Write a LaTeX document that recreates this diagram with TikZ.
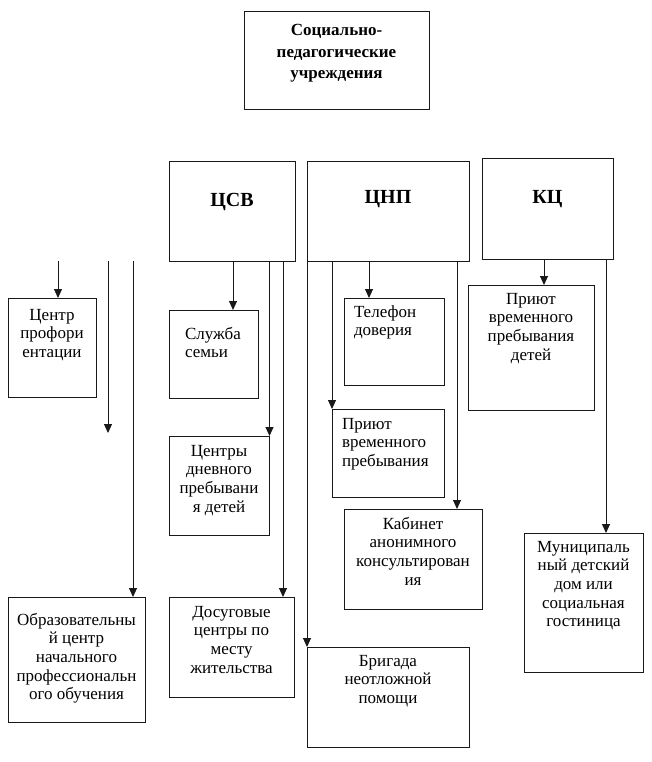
\documentclass[tikz,border=0pt]{standalone}
\usepackage{fontspec}
\setmainfont{Liberation Serif}
\usetikzlibrary{arrows.meta}
\newcommand\bxC[4]{\parbox[c][#2pt][t]{#1pt}{\centering\vspace*{\dimexpr#3pt-0.7\baselineskip\relax}\strut#4\par}}
\newcommand\bxL[5]{\parbox[c][#2pt][t]{#1pt}{\raggedright\leftskip=#4pt\vspace*{\dimexpr#3pt-0.7\baselineskip\relax}\strut#5\par}}
\tikzset{
  box/.style={draw=black!90, line width=1pt, inner sep=0pt, outer sep=0pt, anchor=north west,
    font=\fontsize{17}{18.7}\selectfont},
  headbox/.style={box, font=\bfseries\fontsize{17}{21.5}\selectfont},
  bigbox/.style={box, font=\bfseries\fontsize{20}{22}\selectfont},
  ln/.style={draw=black!90, line width=1pt},
  arr/.style={ln, -{Triangle[length=9pt,width=8pt]}}
}
\begin{document}
\begin{tikzpicture}[x=1pt,y=-1pt]
\useasboundingbox (0,0) rectangle (652,762);
% top level
\node[headbox] (top) at (244,12) {\bxC{185}{98}{24}{Социально-\\педагогические\\учреждения}};
\node[bigbox] (csv) at (169,162) {\bxC{126}{99}{44}{ЦСВ}};
\node[bigbox] (cnp) at (307,162) {\bxC{162}{99}{42}{ЦНП}};
\node[bigbox] (kc) at (482,159) {\bxC{131}{100}{44}{КЦ}};
% left column
\node[box] (prof) at (8,298) {\bxC{88}{99}{22}{Центр\\профори\\ентации}};
\node[box] (obr) at (8,597) {\bxC{137}{125}{28}{Образовательны\\й центр\\начального\\профессиональн\\ого обучения}};
% CSV children
\node[box] (sl) at (169,310) {\bxL{89}{88}{29}{16}{Служба\\семьи}};
\node[box] (dn) at (169,436) {\bxC{100}{99}{20}{Центры\\дневного\\пребывани\\я детей}};
\node[box] (dos) at (169,597) {\bxC{125}{100}{20}{Досуговые\\центры по\\месту\\жительства}};
% CNP children
\node[box] (tel) at (344,298) {\bxL{100}{87}{19}{10}{Телефон\\доверия}};
\node[box] (pr1) at (332,409) {\bxL{112}{88}{20}{10}{Приют\\временного\\пребывания}};
\node[box] (kab) at (344,509) {\bxC{138}{100}{20}{Кабинет\\анонимного\\консультирован\\ия}};
\node[box] (brig) at (307,647) {\bxC{162}{100}{19}{Бригада\\неотложной\\помощи}};
% KC children
\node[box] (kcpr) at (468,285) {\bxC{126}{125}{19}{Приют\\временного\\пребывания\\детей}};
\node[box] (mun) at (524,533) {\bxC{119}{139}{19}{Муниципаль\\ный детский\\дом или\\социальная\\гостиница}};
% free end
\coordinate (freeend) at (108,433);
% left lines
\draw[arr] (58,0 |- csv.south) -- (58,0 |- prof.north);
\draw[arr] (108,0 |- csv.south) -- (freeend);
\draw[arr] (133,0 |- csv.south) -- (133,0 |- obr.north);
% CSV connectors
\draw[arr] (233,0 |- csv.south) -- (233,0 |- sl.north);
\draw[arr] (269.5,0 |- csv.south) -- (269.5,0 |- dn.north);
\draw[arr] (283,0 |- csv.south) -- (283,0 |- dos.north);
% CNP connectors
\draw[arr] (307,0 |- cnp.south) -- (307,0 |- brig.north);
\draw[arr] (332,0 |- cnp.south) -- (332,0 |- pr1.north);
\draw[arr] (369,0 |- cnp.south) -- (369,0 |- tel.north);
\draw[arr] (457,0 |- cnp.south) -- (457,0 |- kab.north);
% KC connectors
\draw[arr] (544,0 |- kc.south) -- (544,0 |- kcpr.north);
\draw[arr] (606,0 |- kc.south) -- (606,0 |- mun.north);
\end{tikzpicture}
\end{document}
